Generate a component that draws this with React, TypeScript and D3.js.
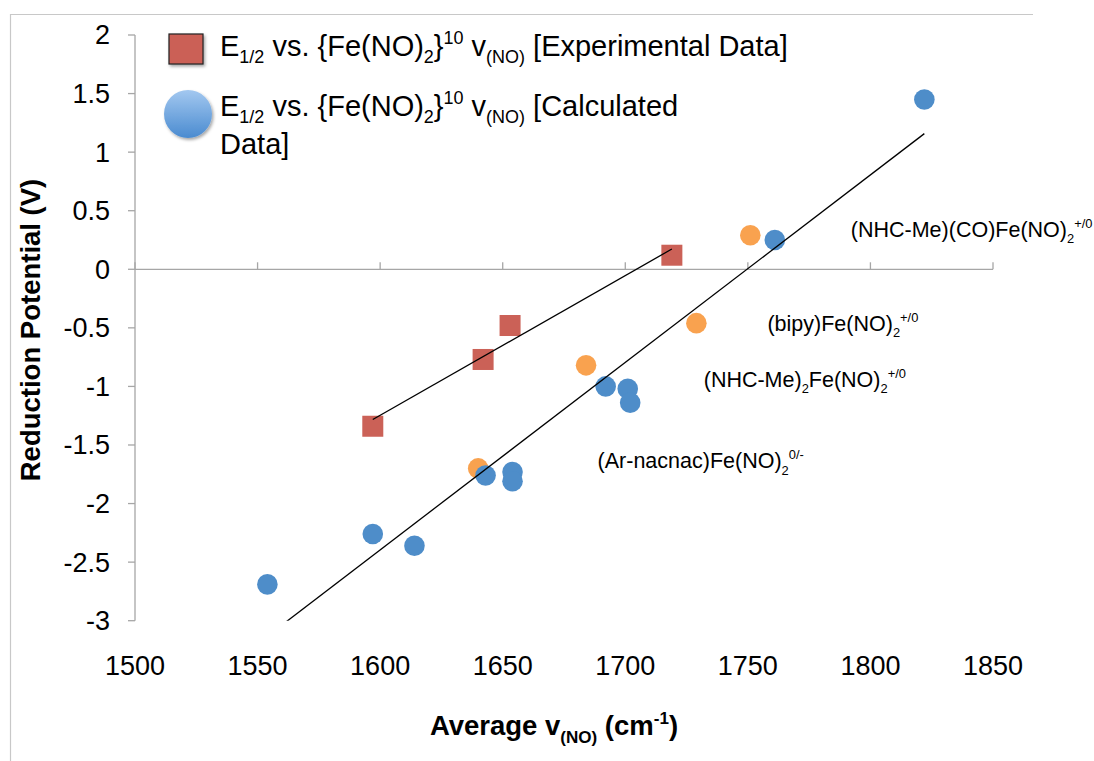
import React from 'react';
import * as d3 from 'd3';

// Experimental E1/2 vs average v(NO)
const expNu = [1597, 1642, 1653, 1719];
const expE = [-1.34, -0.77, -0.48, 0.12];

// Calculated E1/2 vs average v(NO); group "b" = blue, "o" = orange highlight
const calcNu = [1751, 1729, 1684, 1640, 1822, 1761, 1692, 1701, 1702, 1643, 1654, 1654, 1597, 1614, 1554];
const calcE = [0.29, -0.46, -0.82, -1.70, 1.45, 0.25, -1.0, -1.02, -1.14, -1.76, -1.73, -1.81, -2.26, -2.36, -2.69];
const calcGroup = ['o', 'o', 'o', 'o', 'b', 'b', 'b', 'b', 'b', 'b', 'b', 'b', 'b', 'b', 'b'];

const xTicks = [1500, 1550, 1600, 1650, 1700, 1750, 1800, 1850];
const yTicks = [2, 1.5, 1, 0.5, 0, -0.5, -1, -1.5, -2, -2.5, -3];

type Part = [string, 'n' | 'sub' | 'sup'];

const annotations: { nu: number; e: number; parts: Part[] }[] = [
  { nu: 1792, e: 0.276, parts: [['(NHC-Me)(CO)Fe(NO)', 'n'], ['2', 'sub'], ['+/0', 'sup']] },
  { nu: 1758, e: -0.527, parts: [['(bipy)Fe(NO)', 'n'], ['2', 'sub'], ['+/0', 'sup']] },
  { nu: 1732, e: -1.005, parts: [['(NHC-Me)', 'n'], ['2', 'sub'], ['Fe(NO)', 'n'], ['2', 'sub'], ['+/0', 'sup']] },
  { nu: 1688.7, e: -1.697, parts: [['(Ar-nacnac)Fe(NO)', 'n'], ['2', 'sub'], ['0/-', 'sup']] },
];

const FONT = '"Liberation Sans", Arial, Helvetica, sans-serif';

function fit(xs: number[], ys: number[]) {
  const mx = d3.mean(xs)!;
  const my = d3.mean(ys)!;
  let sxy = 0, sxx = 0;
  xs.forEach((x, i) => { sxy += (x - mx) * (ys[i] - my); sxx += (x - mx) ** 2; });
  const m = sxy / sxx;
  return { m, b: my - m * mx };
}

function Rich({ x, y, parts, size, anchor = 'start', weight = 'normal', transform, small = 0.62, subShift = 0.3 }:
  { x: number; y: number; parts: Part[]; size: number; anchor?: string; weight?: string; transform?: string; small?: number; subShift?: number }) {
  let cur = 0;
  return (
    <text x={x} y={y} fontSize={size} textAnchor={anchor} fontWeight={weight} transform={transform} fill="#000">
      {parts.map(([t, k], i) => {
        const target = k === 'sub' ? size * subShift : k === 'sup' ? -size * 0.4 : 0;
        const dy = target - cur;
        cur = target;
        return (
          <tspan key={i} dy={dy} fontSize={k === 'n' ? size : size * small}>{t}</tspan>
        );
      })}
    </text>
  );
}

export default function App() {
  const W = 1094, H = 761;
  const x = d3.scaleLinear().domain([1500, 1850]).range([135, 993]);
  const y = d3.scaleLinear().domain([-3, 2]).range([620.7, 35]);
  const line = d3.line<number[]>().x(d => x(d[0])).y(d => y(d[1]));

  const fe = fit(expNu, expE);
  const fc = fit(calcNu, calcE);
  const eMin = d3.min(expNu)!, eMax = d3.max(expNu)!;
  const cMin = d3.min(calcNu)!, cMax = d3.max(calcNu)!;
  const expLine = line([[eMin, fe.m * eMin + fe.b], [eMax, fe.m * eMax + fe.b]]);
  const calcLine = line([[cMin, fc.m * cMin + fc.b], [cMax, fc.m * cMax + fc.b]]);

  const calcIdx = calcNu.map((_, i) => i);
  const drawOrder = [...calcIdx.filter(i => calcGroup[i] === 'o'), ...calcIdx.filter(i => calcGroup[i] === 'b')];

  const axisColor = '#A6A6A6';
  const legendParts = (label: string): Part[] => [
    ['E', 'n'], ['1/2', 'sub'], [' vs. {Fe(NO)', 'n'], ['2', 'sub'], ['}', 'n'], ['10', 'sup'],
    [' v', 'n'], ['(NO)', 'sub'], [' ' + label, 'n'],
  ];

  return (
    <svg width={W} height={H} style={{ position: 'absolute', left: 0, top: 0, background: '#fff' }}
      fontFamily={FONT}>
      <defs>
        <clipPath id="plot">
          <rect x={135} y={35} width={858} height={585.7} />
        </clipPath>
        <linearGradient id="legCirc" x1="0" y1="0" x2="0" y2="1">
          <stop offset="0" stopColor="#A3C8F0" />
          <stop offset="1" stopColor="#4A8BD0" />
        </linearGradient>
        <filter id="shadow" x="-20%" y="-20%" width="150%" height="150%">
          <feDropShadow dx="1.5" dy="2" stdDeviation="1.5" floodColor="#000" floodOpacity="0.35" />
        </filter>
      </defs>

      {/* outer frame (top and left) */}
      <path d="M10.5,761 V14.5 H1033" fill="none" stroke="#C8C8C8" strokeWidth={1.2} />

      {/* y axis */}
      <line x1={135} x2={135} y1={y(2)} y2={y(-3)} stroke={axisColor} strokeWidth={1.3} />
      {yTicks.map(t => (
        <g key={t}>
          <line x1={128} x2={135} y1={y(t)} y2={y(t)} stroke={axisColor} strokeWidth={1.3} />
          <text x={110} y={y(t)} dy="0.35em" textAnchor="end" fontSize={27}>{t}</text>
        </g>
      ))}

      {/* x axis at zero */}
      <line x1={x(1500)} x2={x(1850)} y1={y(0)} y2={y(0)} stroke={axisColor} strokeWidth={1.3} />
      {xTicks.map(t => (
        <g key={t}>
          <line x1={x(t)} x2={x(t)} y1={y(0)} y2={y(0) - 7} stroke={axisColor} strokeWidth={1.3} />
          <text x={x(t)} y={675} textAnchor="middle" fontSize={27}>{t}</text>
        </g>
      ))}

      {/* calculated points */}
      {drawOrder.map(i => (
        <circle key={'c' + i} cx={x(calcNu[i])} cy={y(calcE[i])} r={10.3}
          fill={calcGroup[i] === 'o' ? '#F9A24F' : '#4E8DC9'} />
      ))}

      {/* experimental points */}
      {expNu.map((n, i) => (
        <rect key={'e' + i} x={x(n) - 10.5} y={y(expE[i]) - 10.5} width={21} height={21} fill="#CB6157" />
      ))}

      {/* trendlines */}
      <g clipPath="url(#plot)">
        <path d={calcLine!} stroke="#000" strokeWidth={1.3} fill="none" />
        <path d={expLine!} stroke="#000" strokeWidth={1.3} fill="none" />
      </g>

      {/* annotations */}
      {annotations.map((a, i) => (
        <Rich key={i} x={x(a.nu)} y={y(a.e)} parts={a.parts} size={21.5} small={0.6} />
      ))}

      {/* legend */}
      <rect x={169} y={34} width={34} height={30} fill="#CB6157" stroke="#222" strokeWidth={1.2} filter="url(#shadow)" />
      <circle cx={188} cy={114} r={24} fill="url(#legCirc)" filter="url(#shadow)" />
      <Rich x={220} y={56} parts={legendParts('[Experimental Data]')} size={29} subShift={0.25} />
      <Rich x={220} y={116} parts={legendParts('[Calculated')} size={29} subShift={0.25} />
      <text x={220} y={154} fontSize={29}>Data]</text>

      {/* axis titles */}
      <Rich x={0} y={0} transform="translate(40,330) rotate(-90)" anchor="middle" weight="bold" size={27.5}
        parts={[['Reduction Potential (V)', 'n']]} />
      <Rich x={554} y={735} anchor="middle" weight="bold" size={27.5}
        parts={[['Average v', 'n'], ['(NO)', 'sub'], [' (cm', 'n'], ['-1', 'sup'], [')', 'n']]} />
    </svg>
  );
}
